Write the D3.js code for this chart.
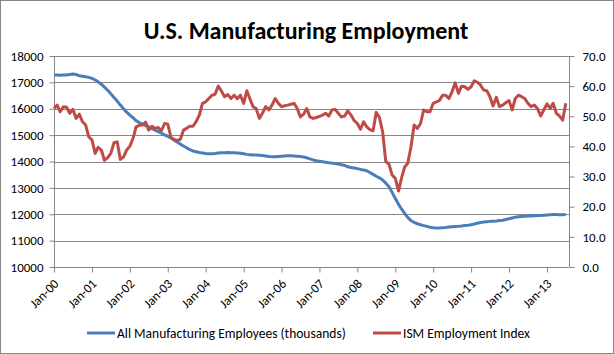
<!DOCTYPE html>
<html>
<head>
<meta charset="utf-8">
<script src="https://cdn.jsdelivr.net/npm/d3@7"></script>
<style>
  body { margin: 0; background: #fff; }
  text { font-family: Carlito, Calibri, Lato, "Open Sans", sans-serif; }
  .axis path, .axis line { stroke: #868686; }
  .axis text { fill: #000; font-size: 13px; }
</style>
</head>
<body>
<svg id="chart"></svg>
<script>
// monthly, Jan 2000 .. Jul 2013
const startMonth = "2000-01-01";
const axisEnd = "2013-08-01";

const employees = [
  17280, 17275, 17270, 17275, 17280, 17300, 17320, 17300, 17250, 17230, 17210, 17190,
  17150, 17090, 17020, 16930, 16820, 16700, 16570, 16430, 16290, 16140, 16000, 15870,
  15760, 15650, 15550, 15480, 15420, 15360, 15310, 15250, 15190, 15130, 15070, 15010,
  14950, 14890, 14820, 14740, 14660, 14590, 14520, 14450, 14400, 14370, 14340, 14320,
  14300, 14290, 14290, 14300, 14320, 14330, 14330, 14340, 14330, 14330, 14320, 14310,
  14290, 14270, 14260, 14250, 14250, 14240, 14230, 14210, 14190, 14180, 14180, 14190,
  14200, 14210, 14215, 14215, 14210, 14200, 14190, 14170, 14140, 14100, 14060, 14030,
  14010, 13990, 13970, 13950, 13940, 13920, 13900, 13880, 13850, 13800, 13770, 13750,
  13730, 13700, 13680, 13650, 13580, 13510, 13440, 13380, 13300, 13180, 13040, 12830,
  12600, 12380, 12200, 12030, 11880, 11760, 11690, 11640, 11600, 11570, 11540, 11510,
  11490, 11480, 11480, 11490, 11500, 11515, 11530, 11540, 11545, 11555, 11570, 11580,
  11600, 11630, 11660, 11690, 11710, 11720, 11730, 11735, 11745, 11760, 11775, 11800,
  11830, 11860, 11890, 11905, 11915, 11925, 11930, 11935, 11940, 11950, 11950, 11960,
  11970, 11980, 11990, 11990, 11985, 11985, 11990
];

const ismEmployment = [
  52.6, 53.7, 51.5, 53.2, 53.0, 51.0, 52.3, 49.3, 50.7, 48.2, 47.1, 43.2,
  42.1, 37.7, 39.7, 38.8, 35.4, 36.3, 37.7, 41.2, 41.5, 35.7, 36.5, 38.8,
  40.1, 42.7, 46.5, 47.0, 47.1, 48.1, 45.4, 46.7, 46.0, 46.3, 45.2, 47.6,
  47.4, 43.0, 42.3, 42.0, 42.3, 45.4, 46.0, 46.7, 46.7, 48.2, 50.4, 54.3,
  54.8, 55.9, 57.0, 57.3, 60.0, 58.4, 56.5, 57.2, 55.9, 57.0, 55.8, 57.0,
  54.3, 58.5, 55.9, 53.2, 52.6, 49.3, 51.0, 53.2, 52.1, 53.7, 55.9, 54.3,
  53.2, 53.5, 53.7, 54.0, 54.3, 52.6, 49.8, 50.7, 52.6, 49.8, 49.3, 49.6,
  50.0, 50.4, 51.0, 50.1, 52.1, 52.3, 51.0, 49.8, 50.1, 51.8, 50.4, 48.6,
  47.6, 45.7, 48.2, 46.5, 45.6, 45.2, 51.3, 49.6, 44.8, 35.0, 34.1, 30.5,
  29.4, 25.2, 29.4, 33.2, 34.4, 39.9, 47.1, 46.0, 47.6, 52.1, 51.5, 51.5,
  54.3, 54.8, 55.2, 57.0, 57.0, 55.9, 58.1, 61.1, 57.6, 60.0, 59.8, 58.9,
  59.8, 61.8, 61.3, 60.4, 58.7, 58.5, 56.5, 53.4, 56.3, 53.2, 53.7, 54.5,
  55.2, 52.1, 55.9, 57.0, 56.5, 55.9, 54.3, 53.2, 53.7, 52.6, 50.1, 52.1,
  54.1, 52.6, 54.3, 51.0, 50.1, 48.7, 54.3
];

const leftTicks = [10000, 11000, 12000, 13000, 14000, 15000, 16000, 17000, 18000];
const rightTicks = [0, 10, 20, 30, 40, 50, 60, 70];
const title = "U.S. Manufacturing Employment";
const seriesNames = ["All Manufacturing Employees (thousands)", "ISM Employment Index"];
const colors = ["#4a7ebb", "#be4b48"];

const width = 614;
const height = 354;
const margin = { top: 56, right: 45, bottom: 87, left: 54 };

const svg = d3.select("#chart").attr("width", width).attr("height", height);

svg.append("rect")
  .attr("x", 0.5).attr("y", 0.5)
  .attr("width", width - 1).attr("height", height - 1)
  .attr("fill", "#fff").attr("stroke", "#868686");

const t0 = d3.timeParse("%Y-%m-%d")(startMonth);
const months = employees.map((d, i) => d3.timeMonth.offset(t0, i));

const x = d3.scaleTime()
  .domain([t0, d3.timeParse("%Y-%m-%d")(axisEnd)])
  .range([margin.left, width - margin.right]);

const yLeft = d3.scaleLinear()
  .domain([10000, 18000])
  .range([height - margin.bottom, margin.top]);

const yRight = d3.scaleLinear()
  .domain([0, 70])
  .range([height - margin.bottom, margin.top]);

// gridlines
svg.append("g")
  .selectAll("line")
  .data(leftTicks.slice(1))
  .join("line")
  .attr("x1", margin.left).attr("x2", width - margin.right)
  .attr("y1", (d) => Math.round(yLeft(d)) + 0.5)
  .attr("y2", (d) => Math.round(yLeft(d)) + 0.5)
  .attr("stroke", "#868686");

svg.append("g")
  .attr("class", "axis")
  .attr("transform", `translate(${margin.left + 0.5},0)`)
  .call(d3.axisLeft(yLeft).tickValues(leftTicks).tickSize(5).tickPadding(6).tickFormat(d3.format("d")))
  .call((g) => g.select(".domain").attr("d", `M0,${margin.top}V${height - margin.bottom}`));

svg.append("g")
  .attr("class", "axis")
  .attr("transform", `translate(${width - margin.right + 0.5},0)`)
  .call(d3.axisRight(yRight).tickValues(rightTicks).tickSize(5).tickPadding(8).tickFormat(d3.format(".1f")))
  .call((g) => g.select(".domain").attr("d", `M0,${margin.top}V${height - margin.bottom}`));

const xAxis = svg.append("g")
  .attr("class", "axis")
  .attr("transform", `translate(0,${height - margin.bottom + 0.5})`)
  .call(d3.axisBottom(x).ticks(d3.timeYear.every(1)).tickSize(5).tickFormat(d3.timeFormat("%b-%y")))
  .call((g) => g.select(".domain").attr("d", `M${margin.left},0H${width - margin.right}`));

xAxis.selectAll(".tick text")
  .attr("text-anchor", "end")
  .attr("dy", null)
  .attr("y", null)
  .attr("transform", "translate(5,17) rotate(-45)");

const lineLeft = d3.line()
  .x((d, i) => x(months[i]))
  .y((d) => yLeft(d));

const lineRight = d3.line()
  .x((d, i) => x(months[i]))
  .y((d) => yRight(d));

svg.append("path")
  .datum(employees)
  .attr("fill", "none")
  .attr("stroke", colors[0])
  .attr("stroke-width", 3)
  .attr("stroke-linejoin", "round")
  .attr("d", lineLeft);

svg.append("path")
  .datum(ismEmployment)
  .attr("fill", "none")
  .attr("stroke", colors[1])
  .attr("stroke-width", 3)
  .attr("stroke-linejoin", "round")
  .attr("d", lineRight);

svg.append("text")
  .attr("x", 306)
  .attr("y", 39)
  .attr("text-anchor", "middle")
  .attr("font-size", 24)
  .attr("font-weight", "bold")
  .text(title);

// legend
const legendX = [87, 373];
const legend = svg.append("g")
  .selectAll("g")
  .data(seriesNames)
  .join("g")
  .attr("transform", (d, i) => `translate(${legendX[i]},333)`);

legend.append("line")
  .attr("x1", 0).attr("x2", 28)
  .attr("stroke", (d, i) => colors[i])
  .attr("stroke-width", 3);

legend.append("text")
  .attr("x", 30)
  .attr("dy", "0.35em")
  .attr("font-size", 13.5)
  .text((d) => d);
</script>
</body>
</html>
